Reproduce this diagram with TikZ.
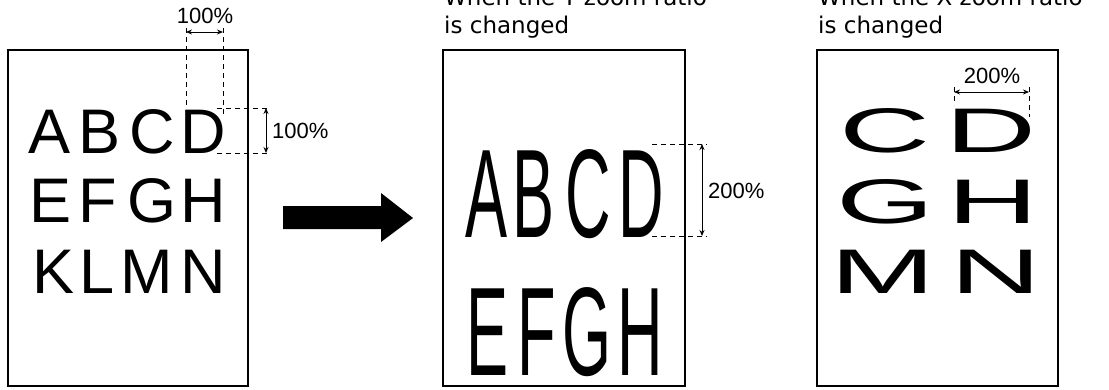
\documentclass[tikz,border=0pt]{standalone}
\usepackage{fontspec}
\setmainfont{Liberation Sans}
\newfontfamily\hdrfont{DejaVu Sans}
\usetikzlibrary{arrows.meta}
\begin{document}
\begin{tikzpicture}[x=1pt,y=-1pt,
  frame/.style={draw, line width=2pt},
  dimline/.style={dash pattern=on 5pt off 4pt, line width=0.9pt},
  dimarrow/.style={{Stealth[length=6pt,width=5pt]}-{Stealth[length=6pt,width=5pt]}, line width=0.9pt},
  letter/.style={inner sep=0, anchor=base, font=\fontsize{63}{63}\selectfont},
  pct/.style={inner sep=0, font=\fontsize{22}{22}\selectfont},
  hdr/.style={inner sep=0, anchor=base west, font=\hdrfont\fontsize{23}{28}\selectfont},
  bigarrow/.style={fill=black}]
\useasboundingbox (0,0) rectangle (1109,389);
\clip (0,0) rectangle (1109,389);

% frames
\draw[frame] (8,50) rectangle (248,386);
\draw[frame] (443,50) rectangle (685,386);
\draw[frame] (817,50) rectangle (1058,386);

% big arrow
\fill[bigarrow] (283,206) -- (381,206) -- (381,193) -- (413,218) -- (381,242) -- (381,229) -- (283,229) -- cycle;

% headers
\node[hdr] (h2a) at (444,5.5) {When the Y zoom ratio};
\node[hdr] (h2b) at (444,33) {is changed};
\node[hdr] (h3a) at (818,5.5) {When the X zoom ratio};
\node[hdr] (h3b) at (818,33) {is changed};

% box 1 letters
\foreach \ch/\x/\y [count=\i] in {A/50/153, B/100/153, C/152/153, D/203/153,
                     E/51/222, F/98/222, G/152/222, H/203/222,
                     K/54/293, L/97/293, M/147/293, N/203/293}
  \node[letter] (a\i) at (\x,\y) {\ch};

% box 2 letters (Y zoom 200%)
\foreach \ch/\x/\y [count=\i] in {A/487/237, B/534/237, C/588/237, D/641/237,
                     E/488/375, F/537/375, G/587/375, H/640/375}
  \node[letter] (b\i) at (\x,\y) {\scalebox{1}[2]{\ch}};

% box 3 letters (X zoom 200%)
\foreach \ch/\x/\y [count=\i] in {C/885/152, D/991/152,
                     G/885/223, H/993/223,
                     M/883/293, N/996/293}
  \node[letter] (c\i) at (\x,\y) {\scalebox{2}[1]{\ch}};

% box 1 dimensions
\coordinate (w1t) at (186,28);  \coordinate (w1b) at (186,106);
\coordinate (w2t) at (223,28);  \coordinate (w2b) at (223,116);
\draw[dimline] (w1t) -- (w1b);
\draw[dimline] (w2t) -- (w2b);
\coordinate (w1a) at (186,32); \coordinate (w2a) at (223,32);
\draw[dimarrow] (w1a) -- (w2a);
\node[pct] (p1) at (205,16) {100\%};

\coordinate (h1l) at (217,108); \coordinate (h1r) at (270,108);
\coordinate (h2l) at (217,153); \coordinate (h2r) at (270,153);
\draw[dimline] (h1l) -- (h1r);
\draw[dimline] (h2l) -- (h2r);
\coordinate (h1a) at (266,108); \coordinate (h2a') at (266,153);
\draw[dimarrow] (h1a) -- (h2a');
\node[pct, anchor=west] (p2) at (272,131) {100\%};

% box 2 dimensions
\coordinate (k1l) at (652,144); \coordinate (k1r) at (707,144);
\coordinate (k2l) at (652,236); \coordinate (k2r) at (707,236);
\draw[dimline] (k1l) -- (k1r);
\draw[dimline] (k2l) -- (k2r);
\coordinate (k1a) at (702,144); \coordinate (k2a) at (702,236);
\draw[dimarrow] (k1a) -- (k2a);
\node[pct, anchor=west] (p3) at (708,191) {200\%};

% box 3 dimensions
\coordinate (m1t) at (954,87); \coordinate (m1b) at (954,105);
\coordinate (m2t) at (1029,87); \coordinate (m2b) at (1029,117);
\draw[dimline] (m1t) -- (m1b);
\draw[dimline] (m2t) -- (m2b);
\coordinate (m1a) at (954,92); \coordinate (m2a) at (1029,92);
\draw[dimarrow] (m1a) -- (m2a);
\node[pct] (p4) at (992,76) {200\%};
\end{tikzpicture}
\end{document}
